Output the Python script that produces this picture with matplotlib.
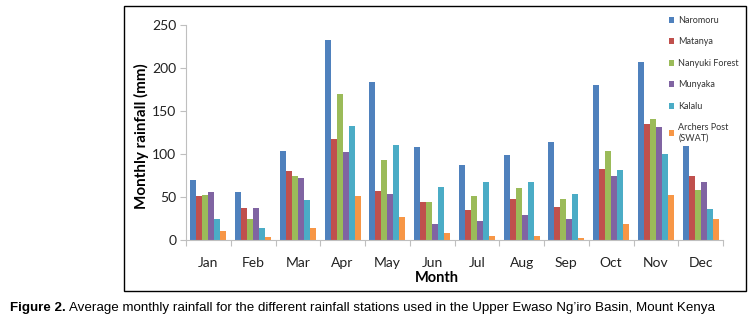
import matplotlib
matplotlib.use("Agg")
import matplotlib.pyplot as plt
import numpy as np
from matplotlib.patches import Rectangle
from matplotlib.ticker import FixedLocator

months = ["Jan", "Feb", "Mar", "Apr", "May", "Jun", "Jul", "Aug", "Sep", "Oct", "Nov", "Dec"]
stations = ["Naromoru", "Matanya", "Nanyuki Forest", "Munyaka", "Kalalu", "Archers Post\n(SWAT)"]
naromoru = [70, 56, 104, 233, 184, 108, 87, 99, 114, 180, 207, 109]
matanya = [51, 37, 80, 117, 57, 44, 35, 48, 38, 82, 135, 75]
nanyuki_forest = [52, 24, 75, 170, 93, 44, 51, 61, 48, 104, 141, 58]
munyaka = [56, 37, 72, 102, 54, 19, 22, 29, 25, 74, 131, 67]
kalalu = [24, 14, 46, 133, 110, 62, 68, 67, 54, 81, 100, 36]
archers_post = [11, 4, 14, 51, 27, 8, 5, 5, 2, 19, 52, 24]
series = [naromoru, matanya, nanyuki_forest, munyaka, kalalu, archers_post]
colors = ["#4F81BD", "#C0504D", "#9BBB59", "#8064A2", "#4BACC6", "#F79646"]

W, H = 754, 319
fig = plt.figure(figsize=(W / 100, H / 100), dpi=100)
font = "Lato"

# outer frame
fig.patches.append(Rectangle((124 / W, 1 - 291 / H), (746 - 124) / W, (291 - 6) / H,
                             transform=fig.transFigure, fill=False, edgecolor="black", linewidth=1.0))

ax = fig.add_axes([186 / W, 1 - 240 / H, 537 / W, 215 / H])
n = len(series)
bw = 1 / (n + 1.5)
x = np.arange(len(months))
for i, (vals, c, name) in enumerate(zip(series, colors, stations)):
    ax.bar(x - 3 * bw + (i + 0.5) * bw, vals, width=bw, color=c, label=name, linewidth=0)

ax.set_xlim(-0.5, len(months) - 0.5)
ax.set_ylim(0, 250)
ax.set_yticks([0, 50, 100, 150, 200, 250])
ax.set_xticks(x)
ax.set_xticklabels(months, fontsize=10, family=font, color="#222222")
ax.xaxis.set_minor_locator(FixedLocator(np.arange(-0.5, len(months), 1)))
ax.tick_params(axis="x", which="major", length=0, pad=12)
ax.tick_params(axis="x", which="minor", length=4, color="#BFBFBF", width=0.8)
ax.tick_params(axis="y", length=4, color="#BFBFBF", width=0.8, labelsize=10, pad=3, labelcolor="#222222")
for lbl in ax.get_yticklabels():
    lbl.set_family(font)
for s in ["top", "right"]:
    ax.spines[s].set_visible(False)
for s in ["left", "bottom"]:
    ax.spines[s].set_color("#BFBFBF")
    ax.spines[s].set_linewidth(0.8)

fig.text(141 / W, 1 - 136 / H, "Monthly rainfall (mm)", rotation=90, ha="center", va="center",
         fontsize=11, fontweight="bold", family=font)
fig.text(437 / W, 1 - 278 / H, "Month", ha="center", va="center", fontsize=10.5, fontweight="bold", family=font)

leg = ax.legend(loc="upper left", bbox_to_anchor=(669 / W, 1 - 16 / H), bbox_transform=fig.transFigure,
                frameon=False, prop={"family": font, "size": 6.5}, handlelength=0.6, handleheight=0.6,
                handletextpad=0.45, labelspacing=1.38, borderaxespad=0, borderpad=0)
for t in leg.get_texts():
    t.set_color("#333333")

cap_font = "Liberation Sans"
cap_y = 1 - 308 / H
fs = 9.0
t1 = fig.text(10 / W, cap_y, "Figure 2.", ha="left", va="center", fontsize=fs, fontweight="bold",
              family=cap_font)
t2 = fig.text(0, cap_y,
              "Average monthly rainfall for the different rainfall stations used in the Upper Ewaso Ng\u2019iro Basin, Mount Kenya",
              ha="left", va="center", fontsize=fs, family=cap_font)
renderer = fig.canvas.get_renderer()
for _ in range(3):
    b1 = t1.get_window_extent(renderer)
    t2.set_x((b1.x1 + 3) / W)
    b2 = t2.get_window_extent(renderer)
    scale = (710 - 10) / (b2.x1 - b1.x0)
    fs = fs * scale
    t1.set_fontsize(fs)
    t2.set_fontsize(fs)
b1 = t1.get_window_extent(renderer)
t2.set_x((b1.x1 + 3) / W)

fig.savefig("out.png", dpi=100)
